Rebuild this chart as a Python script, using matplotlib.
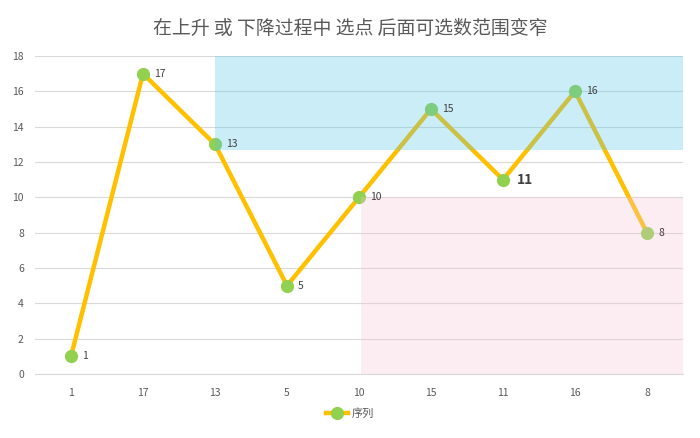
import matplotlib
matplotlib.use("Agg")
import matplotlib.pyplot as plt
from matplotlib.lines import Line2D

plt.rcParams['font.family'] = ['Noto Sans CJK SC', 'DejaVu Sans']

categories = ['1', '17', '13', '5', '10', '15', '11', '16', '8']
values = [1, 17, 13, 5, 10, 15, 11, 16, 8]
title = '在上升 或 下降过程中 选点 后面可选数范围变窄'
series_name = '序列'
yticks = [0, 2, 4, 6, 8, 10, 12, 14, 16, 18]
blue_band = (2, 12.7, 18)   # start index, y low, y high
pink_band = (4.03, 0, 10)

fig = plt.figure(figsize=(7, 4.38), dpi=100)
ax = fig.add_axes([0.05, 0.1461, 0.9257, 0.726])
x = list(range(len(categories)))

ax.plot(x, values, color='#FFC000', lw=3.2, marker='o', ms=8.5,
        markerfacecolor='#92D050', markeredgecolor='#92D050', zorder=3,
        solid_joinstyle='round')

for i, v in zip(x, values):
    if v == 11:
        ax.annotate(str(v), (i, v), xytext=(10, 0), textcoords='offset points',
                    va='center', ha='left', fontsize=10, fontweight='bold', color='#404040', zorder=5)
    else:
        ax.annotate(str(v), (i, v), xytext=(8, 0), textcoords='offset points',
                    va='center', ha='left', fontsize=7.5, color='#404040', zorder=5)

ax.set_xlim(-0.5, len(categories) - 0.5)
ax.set_ylim(0, 18)
ax.fill_between([blue_band[0], len(categories) - 0.5], blue_band[1], blue_band[2],
                color=(82/255, 198/255, 235/255), alpha=0.3, lw=0, zorder=4)
ax.fill_between([pink_band[0], len(categories) - 0.5], pink_band[1], pink_band[2],
                color=(248/255, 198/255, 215/255), alpha=0.3, lw=0, zorder=4)

ax.set_xticks(x)
ax.set_xticklabels(categories)
ax.set_yticks(yticks)
ax.tick_params(axis='both', length=0, labelsize=7.5, colors='#595959')
ax.tick_params(axis='x', pad=10)
ax.tick_params(axis='y', pad=8)
ax.grid(axis='y', color='#d9d9d9', lw=0.8, zorder=0)
ax.set_axisbelow(True)
for s in ['top', 'right', 'left']:
    ax.spines[s].set_visible(False)
ax.spines['bottom'].set_color('#d9d9d9')

fig.text(0.5, 0.936, title, ha='center', va='center', fontsize=13.6, color='#595959')

handle = Line2D([], [], color='#FFC000', lw=3.2, marker='o', ms=8.5,
                markerfacecolor='#92D050', markeredgecolor='#92D050')
fig.legend([handle], [series_name], loc='center', bbox_to_anchor=(0.5, 0.056),
           frameon=False, fontsize=8, labelcolor='#595959', handlelength=2.0,
           handletextpad=0.3)

fig.savefig('out.png', dpi=100)
